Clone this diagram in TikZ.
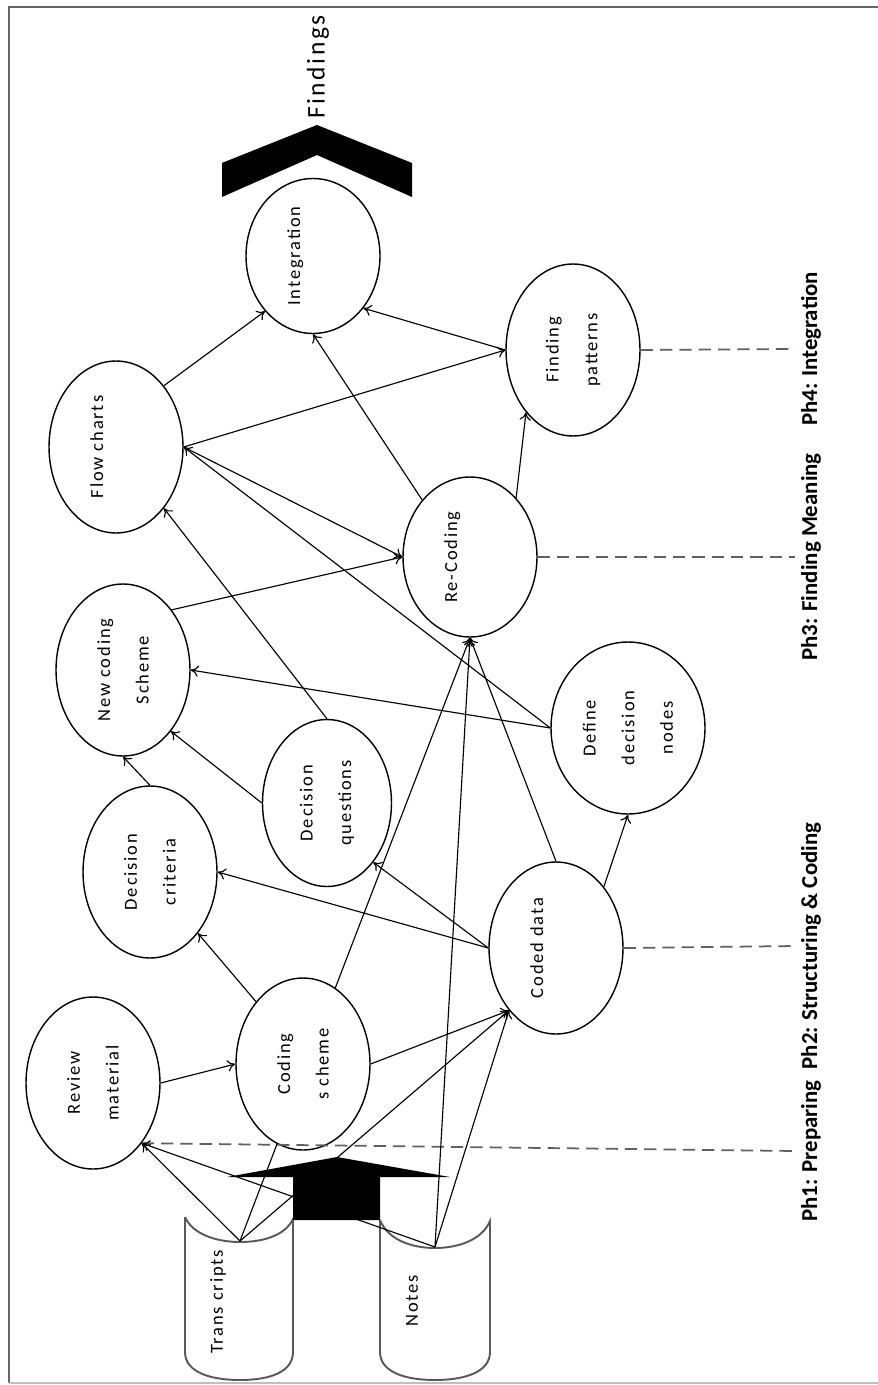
\documentclass[tikz,border=0pt]{standalone}
\usepackage{fontspec}
\newfontfamily\nodefont{Carlito}[LetterSpace=10]
\newfontfamily\phasefont{Carlito}
\usetikzlibrary{shapes.geometric,arrows.meta}

\begin{document}
\begin{tikzpicture}[x=0.02cm,y=-0.02cm,
    stage/.style={ellipse,draw,line width=0.8pt,rotate=90,inner sep=0pt,
      minimum width=3.44cm,minimum height=2.68cm,align=center,
      font=\nodefont\fontsize{10.5}{22}\selectfont},
    tag/.style={rotate=90,inner sep=0pt,font=\nodefont\fontsize{10.5}{12}\selectfont},
    phase/.style={rotate=90,inner sep=3pt,font=\phasefont\bfseries\fontsize{13}{15}\selectfont},
    link/.style={line width=0.65pt,-{To[length=4.5pt,width=6.5pt]}},
    bare/.style={line width=0.65pt},
    phaseline/.style={dash pattern=on 7pt off 4pt,gray!75!black,line width=1pt},
    tube/.style={draw=gray!70!black,line width=1.1pt}]
	\useasboundingbox (0,0) rectangle (878,1385);
	\draw[gray!80!black,line width=0.9pt] (878,7) -- (9,7) -- (9,1383);
	\draw[gray!50,line width=0.9pt] (9,1383) -- (878,1383);

	\node[stage,minimum width=3.1cm] (integ) at (313,256) {Integration\\~};
	\node[stage] (fpat) at (573,350) {Finding\\patterns};
	\node[stage] (flow) at (116,447) {Flow charts\\~};
	\node[stage,minimum width=3.2cm] (recod) at (470,557) {Re-Coding\\~};
	\node[stage] (newcs) at (123,670) {New coding\\Scheme};
	\node[stage,minimum height=3.08cm] (defdn) at (628,728) {Define\\decision\\nodes};
	\node[stage,minimum width=3.34cm,minimum height=2.58cm] (decq) at (327,803) {Decision\\questions};
	\node[stage] (decc) at (150,872) {Decision\\criteria};
	\node[stage] (coded) at (556,948) {Coded data\\~};
	\node[stage] (review) at (93,1083) {Review\\material};
	\node[stage] (codsch) at (303,1064) {Coding\\s cheme};

	\node[tag] (trans) at (218,1302) {Trans cripts};
	\node[tag] (notes) at (412,1301) {Notes};
	\coordinate (transtop) at (240,1241);
	\coordinate (notestop) at (435,1247);
	\node[rotate=90,inner sep=0pt,font=\nodefont\fontsize{14.5}{16}\selectfont] (find) at (318,67) {Findings};

	\node[phase] (ph4) at (811,349) {Ph4: Integration};
	\node[phase] (ph3) at (811,557) {Ph3: Finding Meaning};
	\node[phase] (ph2) at (811,946) {Ph2: Structuring \& Coding};
	\node[phase] (ph1) at (811,1151) {Ph1: Preparing};

	\draw[tube] (185,1217) -- (185,1352) .. controls (185,1372) and (210,1380) .. (240,1380)
		.. controls (270,1380) and (293,1372) .. (293,1352) -- (293,1219)
		.. controls (285,1236) and (262,1242) .. (240,1242) .. controls (218,1242) and (193,1235) .. (185,1217);
	\draw[tube] (380,1220) -- (380,1352) .. controls (380,1372) and (405,1380) .. (435,1380)
		.. controls (465,1380) and (490,1372) .. (490,1352) -- (490,1221)
		.. controls (482,1240) and (458,1248) .. (435,1248) .. controls (412,1248) and (388,1240) .. (380,1220);

	\draw[phaseline] (fpat.south) -- (ph4.north);
	\draw[phaseline] (recod.south) -- (ph3.north);
	\draw[phaseline] (coded.south) -- (ph2.north);
	\draw[phaseline] (review.219) -- (ph1.north);

	\draw[link] (flow.-38) -- (integ.139);
	\draw[link] (recod.40) -- (integ.west);
	\draw[link] (fpat.north) -- (integ.224);
	\draw[link] (flow.south) -- (fpat.north);
	\draw[link] (recod.-38) -- (fpat.143);
	\draw[link] (flow.south) -- (recod.north);
	\draw[link] (defdn.north) -- (flow.south);
	\draw[link] (defdn.north) -- (newcs.south);
	\draw[link] (decq.east) -- (flow.218);
	\draw[link] (decq.north) -- (newcs.218);
	\draw[link] (decc.east) -- (newcs.west);
	\draw[link] (newcs.-39) -- (recod.north);
	\draw[link] (coded.north) -- (decc.south);
	\draw[link] (coded.north) -- (decq.218);
	\draw[link] (coded.east) -- (recod.west);
	\draw[link] (coded.-38) -- (defdn.west);
	\draw[link] (codsch.37) -- (decc.218);
	\draw[link] (codsch.-23) -- (recod.west);
	\draw[link] (codsch.south) -- (coded.143);
	\draw[link] (review.south) -- (codsch.north);
	\draw[link] (transtop) -- (review.219);
	\draw[bare] (transtop) -- (codsch.162);
	\draw[link] (transtop) -- (coded.143);
	\draw[link] (notestop) -- (review.219);
	\draw[link] (notestop) -- (coded.143);
	\draw[link] (notestop) -- (recod.west);

	\fill (222,163) -- (317,125) -- (412,163) -- (412,197) -- (317,155) -- (222,197) -- cycle;
	\fill (227,1177) -- (337,1157) -- (450,1177) -- (380,1177) -- (380,1220) -- (293,1220) -- (293,1177) -- cycle;
\end{tikzpicture}
\end{document}
